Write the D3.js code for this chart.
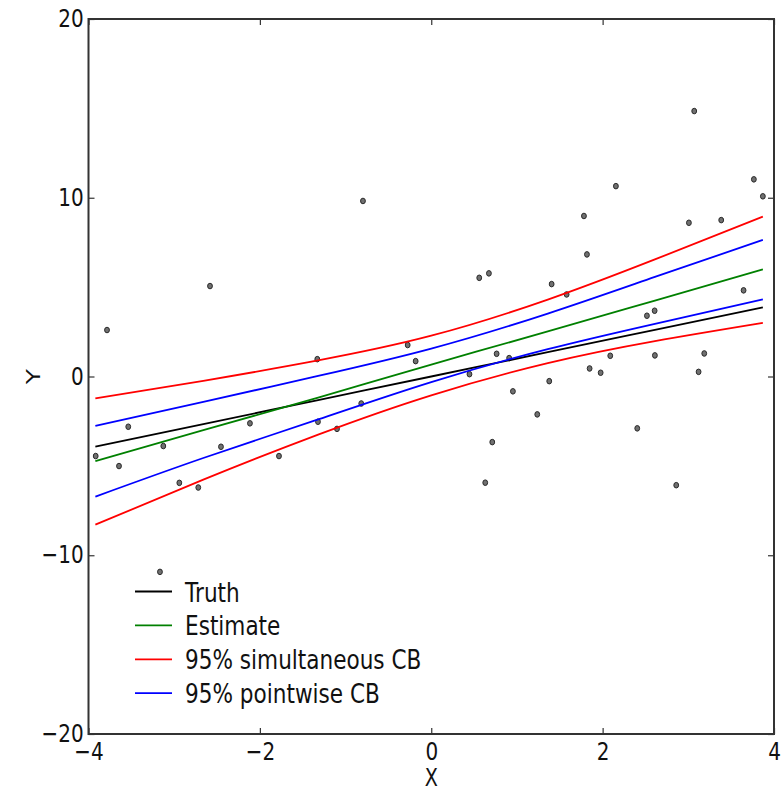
<!DOCTYPE html>
<html>
<head>
<meta charset="UTF-8">
<title>Truth, estimate and confidence bands</title>
<script src="https://cdn.jsdelivr.net/npm/d3@7"></script>
<style>
    body { margin: 0; background: #fff; }
    svg { display: block; }
    text { font-family: 'DejaVu Sans', sans-serif; fill: #111; }
</style>
</head>
<body>
<div id="chart"></div>
<script>
    // sample points
    const pointX = [-3.916, -3.784, -3.644, -3.536, -3.166, -3.127, -2.940, -2.719, -2.582, -2.454,
        -2.116, -1.777, -1.330, -1.322, -1.100, -0.817, -0.797, -0.275, -0.182, 0.446,
        0.560, 0.673, 0.630, 0.712, 0.763, 0.909, 0.953, 1.237, 1.377, 1.405,
        1.580, 1.782, 1.817, 1.848, 1.977, 2.089, 2.155, 2.404, 2.517, 2.607,
        2.610, 2.859, 3.007, 3.069, 3.120, 3.186, 3.384, 3.645, 3.765, 3.870];
    const pointY = [-4.45, 2.60, -5.01, -2.81, -10.93, -3.89, -5.95, -6.21, 5.06, -3.93,
        -2.62, -4.45, 0.97, -2.53, -2.93, -1.51, 9.82, 1.76, 0.86, 0.13,
        5.52, 5.77, -5.94, -3.67, 1.27, 1.03, -0.83, -2.12, -0.26, 5.17,
        4.59, 8.98, 6.83, 0.45, 0.21, 1.16, 10.65, -2.90, 3.40, 3.68,
        1.18, -6.08, 8.60, 14.85, 0.26, 1.29, 8.75, 4.82, 11.03, 10.08];

    // curves, read at these x positions
    const curveX    = [-3.92, -2.66, -1.32, 0, 1.36, 2.61, 3.87];
    const truth     = [-3.92, -2.66, -1.32, 0, 1.36, 2.61, 3.87];
    const estimate  = [-4.73, -3.00, -1.18, 0.67, 2.52, 4.25, 5.99];
    const simUpper  = [-1.23, -0.24, 0.90, 2.28, 4.30, 6.55, 8.94];
    const simLower  = [-8.29, -5.77, -3.25, -1.05, 0.75, 1.98, 3.00];
    const pwUpper   = [-2.76, -1.42, 0.03, 1.56, 3.52, 5.57, 7.64];
    const pwLower   = [-6.72, -4.56, -2.40, -0.31, 1.53, 2.95, 4.32];

    const xTicks = [-4, -2, 0, 2, 4];
    const yTicks = [-20, -10, 0, 10, 20];
    const legendLabels = ["Truth", "Estimate", "95% simultaneous CB", "95% pointwise CB"];
    const legendColors = ["#000000", "#008000", "#ff0000", "#0000ff"];

    const width = 782, height = 791;
    const sx = 0.8; // the picture is squeezed sideways, text too

    const x = d3.scaleLinear().domain([-4, 4]).range([88.5, 774]);
    const y = d3.scaleLinear().domain([-20, 20]).range([734, 19]);

    const svg = d3.select("#chart").append("svg")
        .attr("width", width)
        .attr("height", height);

    // scatter
    svg.append("g").selectAll("ellipse")
        .data(pointX.map((d, i) => [d, pointY[i]]))
        .enter().append("ellipse")
        .attr("cx", d => x(d[0]))
        .attr("cy", d => y(d[1]))
        .attr("rx", 2.4)
        .attr("ry", 2.8)
        .attr("fill", "#707070")
        .attr("stroke", "#2a2a2a")
        .attr("stroke-width", 1);

    // lines
    const line = d3.line()
        .x((d, i) => x(curveX[i]))
        .y(d => y(d))
        .curve(d3.curveNatural);

    const series = [
        [truth, "#000000"],
        [estimate, "#008000"],
        [simUpper, "#ff0000"],
        [simLower, "#ff0000"],
        [pwUpper, "#0000ff"],
        [pwLower, "#0000ff"]
    ];
    svg.append("g").selectAll("path")
        .data(series)
        .enter().append("path")
        .attr("d", d => line(d[0]))
        .attr("fill", "none")
        .attr("stroke", d => d[1])
        .attr("stroke-width", 1.8);

    // axes, ticks pointing inside on all four sides
    const minus = d => d3.format("")(d).replace("-", "\u2212");
    const tickStyle = g => {
        g.select(".domain").remove();
        g.selectAll(".tick line").attr("stroke", "#333").attr("stroke-width", 1.2);
    };
    svg.append("g")
        .attr("transform", "translate(0,734)")
        .call(d3.axisBottom(x).tickValues(xTicks).tickSize(-6).tickPadding(8).tickFormat(minus))
        .call(tickStyle)
        .selectAll("text")
        .attr("font-size", 25)
        .attr("fill", "#111")
        .attr("transform", `scale(${sx},1)`);
    svg.append("g")
        .attr("transform", "translate(0,19)")
        .call(d3.axisTop(x).tickValues(xTicks).tickSize(-6).tickFormat(""))
        .call(tickStyle);
    svg.append("g")
        .attr("transform", "translate(88.5,0)")
        .call(d3.axisLeft(y).tickValues(yTicks).tickSize(-6).tickPadding(6).tickFormat(minus))
        .call(tickStyle)
        .selectAll("text")
        .attr("font-size", 25)
        .attr("fill", "#111")
        .attr("dy", "0.3em")
        .attr("transform", `scale(${sx},1)`);
    svg.append("g")
        .attr("transform", "translate(774,0)")
        .call(d3.axisRight(y).tickValues(yTicks).tickSize(-6).tickFormat(""))
        .call(tickStyle);

    // frame
    svg.append("rect")
        .attr("x", x(-4)).attr("y", y(20))
        .attr("width", x(4) - x(-4))
        .attr("height", y(-20) - y(20))
        .attr("fill", "none")
        .attr("stroke", "#333")
        .attr("stroke-width", 2);

    // axis labels
    svg.append("text")
        .attr("transform", `translate(${x(0)},786) scale(${sx},1)`)
        .attr("text-anchor", "middle")
        .attr("font-size", 24)
        .text("X");
    svg.append("text")
        .attr("transform", `translate(40,${y(0)}) rotate(-90) scale(1,${sx})`)
        .attr("text-anchor", "middle")
        .attr("font-size", 25)
        .text("Y");

    // legend, no frame
    const legend = svg.append("g").selectAll("g")
        .data(legendLabels)
        .enter().append("g")
        .attr("transform", (d, i) => `translate(135,${591.5 + i * 33.9})`);
    legend.append("line")
        .attr("x1", 0).attr("x2", 37)
        .attr("stroke", (d, i) => legendColors[i])
        .attr("stroke-width", 1.8);
    legend.append("text")
        .attr("transform", `translate(50,10) scale(${sx},1)`)
        .attr("font-size", 27)
        .text(d => d);
</script>
</body>
</html>
